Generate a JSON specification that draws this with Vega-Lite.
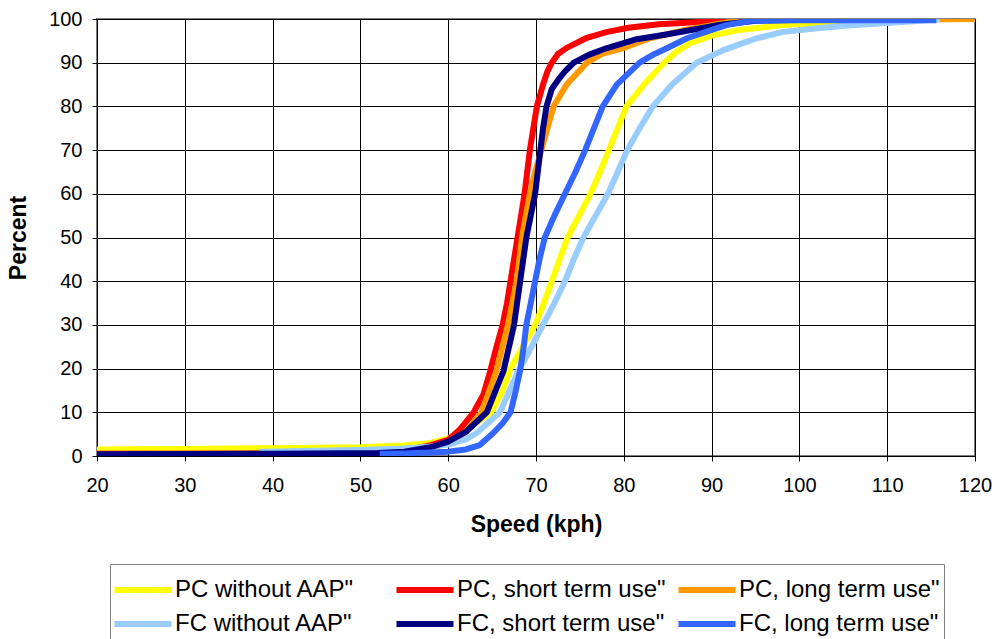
{
  "$schema": "https://vega.github.io/schema/vega-lite/v6.json",
  "width": 878,
  "height": 437,
  "autosize": {"type": "none"},
  "padding": {"left": 97, "top": 19, "right": 19, "bottom": 183},
  "background": "white",
  "config": {
    "view": {"stroke": "#808080", "strokeWidth": 2},
    "axis": {
      "labelFont": "Liberation Sans", "labelFontSize": 20, "labelColor": "#000",
      "titleFont": "Liberation Sans", "titleFontSize": 23, "titleFontWeight": "bold", "titleColor": "#000",
      "domainColor": "#000", "domainWidth": 1, "tickColor": "#000", "tickSize": 5, "tickWidth": 1,
      "gridColor": "#000", "gridWidth": 1, "gridOpacity": 1
    },
    "legend": {
      "labelFont": "Liberation Sans", "labelFontSize": 24, "labelColor": "#000"
    }
  },
  "data": {"values": [
    {"s":"PC without AAP\"","x":20,"y":1.5},{"s":"PC without AAP\"","x":30,"y":1.6},{"s":"PC without AAP\"","x":40,"y":1.8},{"s":"PC without AAP\"","x":50,"y":2.0},{"s":"PC without AAP\"","x":55,"y":2.4},{"s":"PC without AAP\"","x":58,"y":3.0},{"s":"PC without AAP\"","x":60,"y":4.0},{"s":"PC without AAP\"","x":62,"y":6},{"s":"PC without AAP\"","x":63.5,"y":8},{"s":"PC without AAP\"","x":64.9,"y":10},{"s":"PC without AAP\"","x":66.2,"y":15},{"s":"PC without AAP\"","x":67.1,"y":20},{"s":"PC without AAP\"","x":68.5,"y":25},{"s":"PC without AAP\"","x":69.9,"y":30},{"s":"PC without AAP\"","x":70.9,"y":35},{"s":"PC without AAP\"","x":71.8,"y":40},{"s":"PC without AAP\"","x":72.7,"y":45},{"s":"PC without AAP\"","x":73.6,"y":50},{"s":"PC without AAP\"","x":74.9,"y":55},{"s":"PC without AAP\"","x":76.2,"y":60},{"s":"PC without AAP\"","x":77.3,"y":65},{"s":"PC without AAP\"","x":78.3,"y":70},{"s":"PC without AAP\"","x":79.3,"y":75},{"s":"PC without AAP\"","x":80.3,"y":80},{"s":"PC without AAP\"","x":82.3,"y":85},{"s":"PC without AAP\"","x":84.6,"y":90},{"s":"PC without AAP\"","x":86,"y":92.5},{"s":"PC without AAP\"","x":87.5,"y":94.4},{"s":"PC without AAP\"","x":90,"y":96.2},{"s":"PC without AAP\"","x":93.2,"y":97.5},{"s":"PC without AAP\"","x":98,"y":98.6},{"s":"PC without AAP\"","x":104,"y":99.2},{"s":"PC without AAP\"","x":112,"y":99.8},
    {"s":"PC, short term use\"","x":20,"y":0.5},{"s":"PC, short term use\"","x":40,"y":0.6},{"s":"PC, short term use\"","x":50,"y":0.8},{"s":"PC, short term use\"","x":55,"y":1.2},{"s":"PC, short term use\"","x":58,"y":2.5},{"s":"PC, short term use\"","x":60,"y":3.7},{"s":"PC, short term use\"","x":61.3,"y":6},{"s":"PC, short term use\"","x":62.9,"y":10},{"s":"PC, short term use\"","x":64,"y":14},{"s":"PC, short term use\"","x":64.8,"y":19.5},{"s":"PC, short term use\"","x":65.5,"y":25},{"s":"PC, short term use\"","x":66.2,"y":30},{"s":"PC, short term use\"","x":66.7,"y":35},{"s":"PC, short term use\"","x":67.1,"y":40},{"s":"PC, short term use\"","x":67.5,"y":45},{"s":"PC, short term use\"","x":67.9,"y":50},{"s":"PC, short term use\"","x":68.3,"y":55},{"s":"PC, short term use\"","x":68.7,"y":60},{"s":"PC, short term use\"","x":69.0,"y":65},{"s":"PC, short term use\"","x":69.3,"y":70},{"s":"PC, short term use\"","x":69.7,"y":75},{"s":"PC, short term use\"","x":70.1,"y":80},{"s":"PC, short term use\"","x":70.8,"y":85},{"s":"PC, short term use\"","x":71.3,"y":88},{"s":"PC, short term use\"","x":71.8,"y":90},{"s":"PC, short term use\"","x":72.5,"y":92},{"s":"PC, short term use\"","x":73.5,"y":93.4},{"s":"PC, short term use\"","x":75.8,"y":95.7},{"s":"PC, short term use\"","x":78,"y":97},{"s":"PC, short term use\"","x":80.5,"y":98},{"s":"PC, short term use\"","x":84,"y":98.8},{"s":"PC, short term use\"","x":88.7,"y":99.3},{"s":"PC, short term use\"","x":93,"y":99.8},{"s":"PC, short term use\"","x":95,"y":100},
    {"s":"PC, long term use\"","x":20,"y":0.2},{"s":"PC, long term use\"","x":40,"y":0.2},{"s":"PC, long term use\"","x":51,"y":0.3},{"s":"PC, long term use\"","x":55,"y":0.8},{"s":"PC, long term use\"","x":58,"y":1.8},{"s":"PC, long term use\"","x":60,"y":3},{"s":"PC, long term use\"","x":62,"y":5.5},{"s":"PC, long term use\"","x":63.8,"y":10},{"s":"PC, long term use\"","x":65.5,"y":19.5},{"s":"PC, long term use\"","x":66.8,"y":30},{"s":"PC, long term use\"","x":67.8,"y":40},{"s":"PC, long term use\"","x":68.4,"y":50},{"s":"PC, long term use\"","x":69.3,"y":60},{"s":"PC, long term use\"","x":69.9,"y":65},{"s":"PC, long term use\"","x":70.6,"y":70},{"s":"PC, long term use\"","x":71.3,"y":75},{"s":"PC, long term use\"","x":72.0,"y":80},{"s":"PC, long term use\"","x":73.5,"y":85},{"s":"PC, long term use\"","x":75.8,"y":90},{"s":"PC, long term use\"","x":77.5,"y":92},{"s":"PC, long term use\"","x":79.9,"y":93.3},{"s":"PC, long term use\"","x":83,"y":95.6},{"s":"PC, long term use\"","x":87,"y":97.5},{"s":"PC, long term use\"","x":92,"y":99.3},{"s":"PC, long term use\"","x":95,"y":99.7},{"s":"PC, long term use\"","x":100,"y":99.8},{"s":"PC, long term use\"","x":110,"y":99.8},{"s":"PC, long term use\"","x":120,"y":100},
    {"s":"FC without AAP\"","x":38.5,"y":1.0},{"s":"FC without AAP\"","x":45,"y":1.2},{"s":"FC without AAP\"","x":50,"y":1.4},{"s":"FC without AAP\"","x":55,"y":1.7},{"s":"FC without AAP\"","x":58,"y":2.2},{"s":"FC without AAP\"","x":60,"y":2.6},{"s":"FC without AAP\"","x":62,"y":3.8},{"s":"FC without AAP\"","x":63.2,"y":5.2},{"s":"FC without AAP\"","x":64.5,"y":7.5},{"s":"FC without AAP\"","x":65.9,"y":10},{"s":"FC without AAP\"","x":67,"y":15},{"s":"FC without AAP\"","x":68,"y":19.5},{"s":"FC without AAP\"","x":69.5,"y":25},{"s":"FC without AAP\"","x":70.8,"y":30},{"s":"FC without AAP\"","x":72.1,"y":35},{"s":"FC without AAP\"","x":73.3,"y":40},{"s":"FC without AAP\"","x":74.3,"y":45},{"s":"FC without AAP\"","x":75.4,"y":50},{"s":"FC without AAP\"","x":76.8,"y":55},{"s":"FC without AAP\"","x":78.2,"y":60},{"s":"FC without AAP\"","x":79.3,"y":65},{"s":"FC without AAP\"","x":80.4,"y":70},{"s":"FC without AAP\"","x":81.8,"y":75},{"s":"FC without AAP\"","x":83.3,"y":80},{"s":"FC without AAP\"","x":85.5,"y":85},{"s":"FC without AAP\"","x":88.3,"y":90},{"s":"FC without AAP\"","x":91.5,"y":93},{"s":"FC without AAP\"","x":95,"y":95.5},{"s":"FC without AAP\"","x":98,"y":97},{"s":"FC without AAP\"","x":102,"y":97.9},{"s":"FC without AAP\"","x":105.5,"y":98.5},{"s":"FC without AAP\"","x":109.5,"y":99},{"s":"FC without AAP\"","x":113,"y":99.5},{"s":"FC without AAP\"","x":116,"y":100},
    {"s":"FC, short term use\"","x":20,"y":0.4},{"s":"FC, short term use\"","x":40,"y":0.5},{"s":"FC, short term use\"","x":52,"y":0.7},{"s":"FC, short term use\"","x":55,"y":1.0},{"s":"FC, short term use\"","x":58,"y":2.0},{"s":"FC, short term use\"","x":60,"y":3.3},{"s":"FC, short term use\"","x":62,"y":5.5},{"s":"FC, short term use\"","x":64.4,"y":10},{"s":"FC, short term use\"","x":66.3,"y":19.5},{"s":"FC, short term use\"","x":67.5,"y":30},{"s":"FC, short term use\"","x":68.2,"y":40},{"s":"FC, short term use\"","x":68.9,"y":50},{"s":"FC, short term use\"","x":69.9,"y":60},{"s":"FC, short term use\"","x":70.2,"y":65},{"s":"FC, short term use\"","x":70.5,"y":70},{"s":"FC, short term use\"","x":70.8,"y":75},{"s":"FC, short term use\"","x":71.2,"y":80},{"s":"FC, short term use\"","x":71.8,"y":84},{"s":"FC, short term use\"","x":72.5,"y":86},{"s":"FC, short term use\"","x":73.3,"y":88},{"s":"FC, short term use\"","x":74.3,"y":90},{"s":"FC, short term use\"","x":76,"y":91.8},{"s":"FC, short term use\"","x":78,"y":93.3},{"s":"FC, short term use\"","x":81.3,"y":95.3},{"s":"FC, short term use\"","x":85,"y":96.5},{"s":"FC, short term use\"","x":88,"y":97.6},{"s":"FC, short term use\"","x":91,"y":98.7},{"s":"FC, short term use\"","x":95,"y":99.6},{"s":"FC, short term use\"","x":100,"y":99.8},
    {"s":"FC, long term use\"","x":52.2,"y":0.5},{"s":"FC, long term use\"","x":55,"y":0.6},{"s":"FC, long term use\"","x":58,"y":0.8},{"s":"FC, long term use\"","x":60,"y":1.0},{"s":"FC, long term use\"","x":62,"y":1.5},{"s":"FC, long term use\"","x":63.6,"y":2.5},{"s":"FC, long term use\"","x":65.1,"y":5.2},{"s":"FC, long term use\"","x":66.2,"y":7.5},{"s":"FC, long term use\"","x":67.1,"y":10},{"s":"FC, long term use\"","x":67.7,"y":15},{"s":"FC, long term use\"","x":68.2,"y":19.7},{"s":"FC, long term use\"","x":68.6,"y":25},{"s":"FC, long term use\"","x":68.9,"y":30},{"s":"FC, long term use\"","x":69.4,"y":35},{"s":"FC, long term use\"","x":69.9,"y":40},{"s":"FC, long term use\"","x":70.4,"y":45},{"s":"FC, long term use\"","x":71.0,"y":50},{"s":"FC, long term use\"","x":72.1,"y":55},{"s":"FC, long term use\"","x":73.3,"y":60},{"s":"FC, long term use\"","x":74.5,"y":65},{"s":"FC, long term use\"","x":75.6,"y":70},{"s":"FC, long term use\"","x":76.6,"y":75},{"s":"FC, long term use\"","x":77.6,"y":80},{"s":"FC, long term use\"","x":79.2,"y":85},{"s":"FC, long term use\"","x":81.8,"y":90},{"s":"FC, long term use\"","x":83.5,"y":92},{"s":"FC, long term use\"","x":84.9,"y":93.3},{"s":"FC, long term use\"","x":87.2,"y":95.6},{"s":"FC, long term use\"","x":90,"y":97.5},{"s":"FC, long term use\"","x":91.7,"y":98.6},{"s":"FC, long term use\"","x":94.5,"y":99.6},{"s":"FC, long term use\"","x":100,"y":99.7},{"s":"FC, long term use\"","x":115.6,"y":99.7}
  ]},
  "mark": {"type": "line", "strokeWidth": 6, "strokeJoin": "round", "strokeCap": "butt", "clip": true},
  "encoding": {
    "x": {"field": "x", "type": "quantitative", "title": "Speed (kph)",
      "scale": {"domain": [20, 120], "nice": false, "zero": false},
      "axis": {"values": [20,30,40,50,60,70,80,90,100,110,120], "labelPadding": 14, "titlePadding": 18, "labelFlush": false}},
    "y": {"field": "y", "type": "quantitative", "title": "Percent",
      "scale": {"domain": [0, 100], "nice": false},
      "axis": {"values": [0,10,20,30,40,50,60,70,80,90,100], "labelPadding": 10, "titlePadding": 18}},
    "color": {"field": "s", "type": "nominal",
      "scale": {
        "domain": ["PC without AAP\"", "PC, short term use\"", "PC, long term use\"", "FC without AAP\"", "FC, short term use\"", "FC, long term use\""],
        "range": ["#FFFF00", "#FF0000", "#FF9900", "#99CCFF", "#000080", "#3366FF"]
      },
      "legend": {
        "title": null, "orient": "none", "legendX": 13, "legendY": 545,
        "columns": 3, "direction": "horizontal", "gridAlign": "all",
        "symbolType": "M-1.5,0H1.5", "symbolSize": 1444, "symbolStrokeWidth": 6, "symbolOffset": 7,
        "labelOffset": 10, "columnPadding": 0, "rowPadding": 0, "padding": 4,
        "strokeColor": "#808080", "fillColor": "white", "labelLimit": 400
      }
    },
    "order": {"field": "x", "type": "quantitative"}
  }
}
